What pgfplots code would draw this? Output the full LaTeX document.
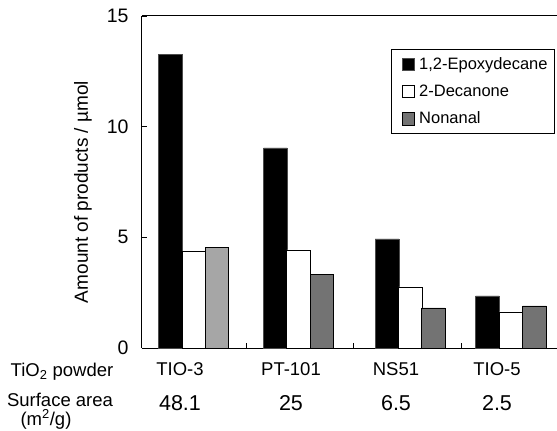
\documentclass[border=0pt]{standalone}
\usepackage{fontspec}
\setmainfont{Liberation Sans}
\usepackage{pgfplots}
\pgfplotsset{compat=1.18}
\begin{document}
\begin{tikzpicture}
\useasboundingbox (-142pt,-83pt) rectangle (415pt,348pt);
\begin{axis}[
  at={(0,0)}, anchor=south west,
  scale only axis, width=415pt, height=332pt,
  xmin=0, xmax=415, ymin=0, ymax=15,
  axis x line*=box, axis y line*=left,
  axis line style={line width=1pt},
  ytick={0,5,10,15},
  tick align=inside,
  major tick length=5pt,
  tick style={line width=0.9pt, black},
  xtick={104,211,319}, xticklabels={},
  xtick pos=bottom,
  extra x ticks={38,149,254,355},
  extra x tick labels={%
    {TIO-3\\\fontsize{21.5}{35}\selectfont 48.1},
    {PT-101\\\fontsize{21.5}{35}\selectfont 25},
    {NS51\\\fontsize{21.5}{35}\selectfont 6.5},
    {TIO-5\\\fontsize{21.5}{35}\selectfont 2.5}},
  extra x tick style={major tick length=0pt,
    xticklabel style={align=center, font=\fontsize{18.5}{35}\selectfont, anchor=north, yshift=-11pt}},
  /pgf/number format/assume math mode=true,
  yticklabel style={font=\fontsize{19.5}{19.5}\selectfont, anchor=east, xshift=-10pt},
  every axis y label/.style={at={(axis description cs:-0.142,0.47)}, rotate=90, anchor=center},
  ylabel={Amount of products / µmol},
  ylabel style={font=\fontsize{19}{19}\selectfont},
  legend image code/.code={\path (0pt,0pt) (20pt,0pt);\draw[#1] (6pt,-6.5pt) rectangle (18pt,6pt);},
  legend style={at={(axis description cs:0.9952,0.9006)}, anchor=north east,
    draw=black, line width=0.8pt, font=\fontsize{16.5}{16.5}\selectfont,
    inner xsep=5pt, inner ysep=6pt, row sep=10pt,
    cells={anchor=west}},
]
\addplot[ybar, bar shift=0pt, bar width=23.6, fill=black, draw=black!70, line width=0.6pt]
  coordinates {(28.3,13.28) (133.4,9.04) (245,4.93) (345.3,2.35)};
\addlegendentry{1,2-Epoxydecane}
\addplot[ybar, bar shift=0pt, bar width=23.6, fill=white, draw=black, line width=0.8pt]
  coordinates {(52,4.38) (156.5,4.43) (268.3,2.76) (369,1.63)};
\addlegendentry{2-Decanone}
\addplot[ybar, bar shift=0pt, bar width=23.6, fill=black!55, draw=black, line width=0.8pt]
  coordinates {(180,3.34) (291.3,1.81) (392.5,1.90)};
\addlegendentry{Nonanal}
\addplot[ybar, bar shift=0pt, bar width=23.6, fill=black!35, draw=black, line width=0.8pt, forget plot]
  coordinates {(75,4.56)};
\end{axis}
\node[font=\fontsize{18.5}{18.5}\selectfont, anchor=base] at (-80pt,-28.5pt) {TiO\textsubscript{2} powder};
\node[font=\fontsize{18.5}{18.5}\selectfont, anchor=base] at (-82pt,-58.5pt) {Surface area};
\node[font=\fontsize{18.5}{18.5}\selectfont, anchor=base] at (-96pt,-77pt) {(m\textsuperscript{2}/g)};
\end{tikzpicture}
\end{document}
